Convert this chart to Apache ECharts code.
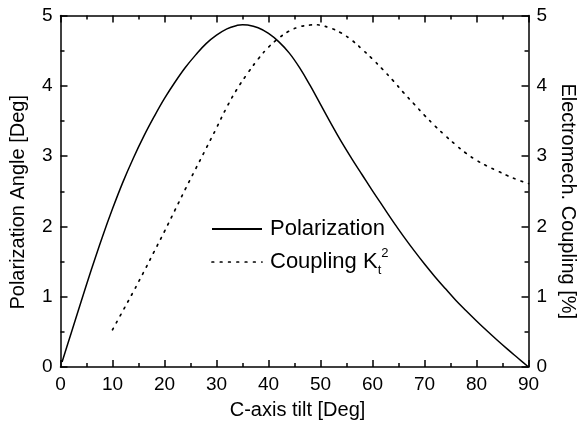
<!DOCTYPE html>
<html>
<head>
<meta charset="utf-8">
<script src="https://cdn.jsdelivr.net/npm/echarts@6/dist/echarts.min.js"></script>
<style>html,body{margin:0;padding:0;background:#fff}#c{width:586px;height:429px}</style>
</head>
<body>
<div id="c"></div>
<script>
// Polarization angle (left axis, Deg) vs C-axis tilt (Deg)
const polX = [0.3, 2, 4, 6, 8, 10, 12, 14, 16, 18, 20, 22, 24, 26, 28, 30, 32, 34, 35, 36, 38, 40, 42, 44, 46, 48, 50, 52, 54, 56, 58, 60, 62, 64, 66, 68, 70, 72, 74, 76, 78, 80, 82, 84, 86, 88, 90];
const polY = [0.07, 0.47, 0.94, 1.40, 1.84, 2.25, 2.63, 2.97, 3.28, 3.56, 3.82, 4.05, 4.26, 4.44, 4.60, 4.72, 4.81, 4.86, 4.87, 4.865, 4.825, 4.745, 4.625, 4.465, 4.255, 4.005, 3.735, 3.465, 3.205, 2.965, 2.735, 2.505, 2.285, 2.065, 1.855, 1.655, 1.465, 1.285, 1.115, 0.95, 0.80, 0.655, 0.515, 0.38, 0.25, 0.125, 0.0];
// Electromechanical coupling Kt^2 (right axis, %)
const cplX = [10, 12, 14, 16, 18, 20, 22, 24, 26, 28, 30, 32, 34, 36, 38, 40, 42, 44, 46, 48, 49, 50, 52, 54, 56, 58, 60, 62, 64, 66, 68, 70, 72, 74, 76, 78, 80, 82, 84, 86, 88, 90];
const cplY = [0.53, 0.80, 1.07, 1.35, 1.64, 1.93, 2.23, 2.53, 2.82, 3.11, 3.40, 3.70, 3.96, 4.18, 4.38, 4.55, 4.68, 4.78, 4.84, 4.865, 4.87, 4.86, 4.82, 4.75, 4.65, 4.52, 4.38, 4.23, 4.07, 3.90, 3.74, 3.58, 3.43, 3.29, 3.16, 3.04, 2.94, 2.86, 2.79, 2.72, 2.66, 2.61];

const seriesNames = ['Polarization', 'Coupling'];
const xName = 'C-axis tilt [Deg]';
const yLeftName = 'Polarization Angle [Deg]';
const yRightName = 'Electromech. Coupling [%]';

const FONT = "'Liberation Sans', Arial, Helvetica, sans-serif";
const axisLine = { show: true, onZero: false, lineStyle: { color: '#000', width: 1.5 } };
const tick = { show: true, inside: true, length: 7, lineStyle: { color: '#000', width: 1.5 } };
const minor = { show: true, splitNumber: 2, length: 4, lineStyle: { color: '#000', width: 1.5 } };
const lbl = { color: '#000', fontSize: 19, fontFamily: FONT, margin: 8 };

const chart = echarts.init(document.getElementById('c'), null, { renderer: 'canvas' });
chart.setOption({
  animation: false,
  backgroundColor: '#fff',
  grid: { left: 60.5, right: 50.3, top: 15.5, bottom: 62, containLabel: false },
  legend: {
    orient: 'vertical', left: 206, top: 209, itemWidth: 50, itemHeight: 14, itemGap: 3,
    data: [
      { name: seriesNames[0] },
      { name: seriesNames[1], lineStyle: { type: [1.7, 6.6], cap: 'round', width: 1.7 } }
    ],
    itemStyle: { opacity: 0 },
    textStyle: {
      color: '#000', fontSize: 22, fontFamily: FONT, lineHeight: 30,
      rich: {
        n: { fontSize: 22, fontFamily: FONT, color: '#000', lineHeight: 30, verticalAlign: 'middle', padding: [0, 0, 0, 3] },
        s: { fontSize: 13, fontFamily: FONT, color: '#000', lineHeight: 14, verticalAlign: 'bottom' },
        p: { fontSize: 13, fontFamily: FONT, color: '#000', lineHeight: 14, verticalAlign: 'top' }
      }
    },
    formatter: function (name) {
      return name === 'Coupling' ? '{n|Coupling K}{s|t}{p|2}' : '{n|' + name + '}';
    }
  },
  xAxis: [
    { type: 'value', min: 0, max: 90, interval: 10, position: 'bottom',
      name: xName, nameLocation: 'middle', nameGap: 33,
      nameTextStyle: { color: '#000', fontSize: 20, fontFamily: FONT, padding: [0, 0, 0, 6] },
      axisLine: axisLine, axisTick: tick, minorTick: minor, axisLabel: lbl,
      splitLine: { show: false }, minorSplitLine: { show: false } },
    { type: 'value', min: 0, max: 90, interval: 10, position: 'top',
      axisLine: axisLine, axisTick: tick, minorTick: minor, axisLabel: { show: false },
      splitLine: { show: false }, minorSplitLine: { show: false } }
  ],
  yAxis: [
    { type: 'value', min: 0, max: 5, interval: 1, position: 'left',
      name: yLeftName, nameLocation: 'middle', nameGap: 32, nameRotate: 90,
      nameTextStyle: { color: '#000', fontSize: 20, fontFamily: FONT, padding: [0, 22, 0, 0] },
      axisLine: axisLine, axisTick: tick, minorTick: minor, axisLabel: lbl,
      splitLine: { show: false }, minorSplitLine: { show: false } },
    { type: 'value', min: 0, max: 5, interval: 1, position: 'right',
      name: yRightName, nameLocation: 'middle', nameGap: 28, nameRotate: -90,
      nameTextStyle: { color: '#000', fontSize: 20, fontFamily: FONT, padding: [0, 0, 0, 20] },
      axisLine: axisLine, axisTick: tick, minorTick: minor, axisLabel: lbl,
      splitLine: { show: false }, minorSplitLine: { show: false } }
  ],
  series: [
    { name: seriesNames[0], type: 'line', xAxisIndex: 0, yAxisIndex: 0,
      data: polX.map((x, i) => [x, polY[i]]), showSymbol: false, symbol: 'none', smooth: 0.4,
      lineStyle: { color: '#000', width: 1.5 }, itemStyle: { color: '#000' } },
    { name: seriesNames[1], type: 'line', xAxisIndex: 0, yAxisIndex: 1,
      data: cplX.map((x, i) => [x, cplY[i]]), showSymbol: false, symbol: 'none', smooth: 0.4,
      lineStyle: { color: '#000', width: 1.7, type: [1.7, 6.2], cap: 'round' }, itemStyle: { color: '#000' } }
  ]
});
</script>
</body>
</html>
